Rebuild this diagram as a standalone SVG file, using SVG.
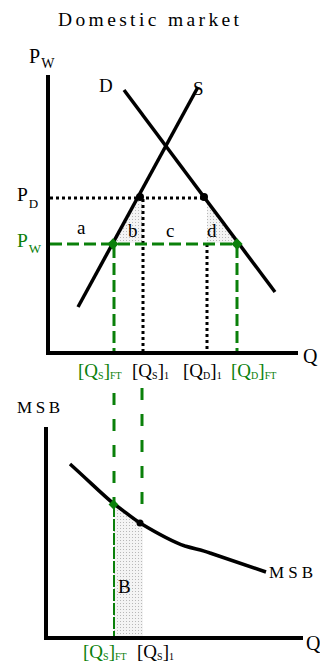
<svg xmlns="http://www.w3.org/2000/svg" width="320" height="663" viewBox="0 0 320 663">
<defs>
<pattern id="dots" width="3" height="3" patternUnits="userSpaceOnUse">
<rect width="3" height="3" fill="#f4f4f4"/>
<rect width="1" height="1" fill="#b8b8b8"/>
</pattern>
</defs>
<style>
.t{font-family:"Liberation Serif","Times New Roman",serif;fill:#000}
.g{fill:#0a800a}
.axis{stroke:#000;stroke-width:4;fill:none}
.curve{stroke:#000;stroke-width:3.5;fill:none;stroke-linecap:butt}
.dot{stroke:#000;stroke-width:3;stroke-dasharray:3 3;fill:none}
.gd{stroke:#0a800a;stroke-width:3;stroke-dasharray:12 5;fill:none}
.gv{stroke:#0a800a;stroke-width:3;stroke-dasharray:12 14;fill:none}
.shade{fill:url(#dots);stroke:none}
</style>
<rect width="320" height="663" fill="#fff"/>

<text class="t" x="58" y="26" font-size="19.5" textLength="181" lengthAdjust="spacing">Domestic market</text>

<g id="shading">
<polygon class="shade" points="140,198 143,198 143,243 114,243"/>
<polygon class="shade" points="204,198 207,198 207,243 236,243"/>
<path class="shade" d="M114,505 L140,523 L143,524 L143,637 L114,637 Z"/>
</g>

<g id="axes">
<polyline class="axis" points="48,75 48,353 298,353"/>
<polyline class="axis" points="46,427 46,638 303,638"/>
</g>

<g id="connectors">
<line class="dot" x1="50" y1="198" x2="204" y2="198"/>
<line class="dot" x1="143" y1="199" x2="143" y2="351"/>
<line class="dot" x1="207" y1="244" x2="207" y2="351"/>
<line class="gd" x1="50" y1="244" x2="237" y2="244"/>
<line class="gd" x1="114" y1="246" x2="114" y2="351" stroke-dasharray="10 4"/>
<line class="gd" x1="237" y1="246" x2="237" y2="351" stroke-dasharray="10 4"/>
<line class="gv" x1="114" y1="393" x2="114" y2="505"/>
<line class="gv" x1="142" y1="388" x2="142" y2="510"/>
<line stroke="#0a800a" stroke-width="2" stroke-dasharray="12 2" x1="114" y1="505" x2="114" y2="636"/>
</g>

<g id="curve-D">
<line class="curve" x1="124" y1="90" x2="275" y2="292"/>
<text class="t" x="99" y="92" font-size="19">D</text>
</g>
<g id="curve-S">
<line class="curve" x1="78" y1="307" x2="198" y2="87"/>
<text class="t" x="193" y="95" font-size="19">S</text>
</g>
<g id="curve-MSB">
<path class="curve" d="M70,464 C90,482 104,496 114,504 C124,511 132,518 140,523 C155,532 170,541 185,546 C195,549 202,550 210,553 L266,572"/>
<text class="t" x="269" y="578" font-size="17" textLength="44" lengthAdjust="spacing">MSB</text>
</g>

<g id="points">
<circle cx="140" cy="197" r="4"/>
<circle cx="204" cy="197" r="4"/>
<circle cx="140" cy="523" r="3.5"/>
<rect x="109" y="240" width="8" height="8" fill="#0a800a" transform="rotate(45 113 244)"/>
<rect x="233" y="240" width="8" height="8" fill="#0a800a" transform="rotate(45 237 244)"/>
<rect x="110" y="501" width="7" height="7" fill="#0a800a" transform="rotate(45 113.5 504.5)"/>
</g>

<g id="labels">
<text class="t" x="29" y="63" font-size="20">P<tspan font-size="14" dx="1" dy="5">W</tspan></text>
<text class="t" x="17" y="201" font-size="19.5">P<tspan font-size="13" dx="1" dy="7">D</tspan></text>
<text class="t g" x="17" y="247" font-size="19.5">P<tspan font-size="13" dx="1" dy="6">W</tspan></text>
<text class="t" x="77" y="234" font-size="19">a</text>
<text class="t" x="128" y="237" font-size="19">b</text>
<text class="t" x="166" y="237" font-size="19">c</text>
<text class="t" x="207" y="237" font-size="19">d</text>
<text class="t" x="303" y="363" font-size="20">Q</text>
<text class="t g" x="78" y="377" font-size="19">[Q<tspan font-size="10" dy="2">S</tspan><tspan dy="-2">]</tspan><tspan font-size="10" dy="2">FT</tspan></text>
<text class="t" x="132" y="377" font-size="19">[Q<tspan font-size="10" dy="2">S</tspan><tspan dy="-2">]</tspan><tspan font-size="10" dy="2">1</tspan></text>
<text class="t" x="183" y="377" font-size="19">[Q<tspan font-size="10" dy="2">D</tspan><tspan dy="-2">]</tspan><tspan font-size="10" dy="2">1</tspan></text>
<text class="t g" x="231" y="377" font-size="19">[Q<tspan font-size="10" dy="2">D</tspan><tspan dy="-2">]</tspan><tspan font-size="10" dy="2">FT</tspan></text>
<text class="t" x="17" y="413" font-size="17" textLength="43" lengthAdjust="spacing">MSB</text>
<text class="t" x="118" y="593" font-size="19">B</text>
<text class="t" x="306" y="650" font-size="20">Q</text>
<text class="t g" x="83" y="658" font-size="19">[Q<tspan font-size="10" dy="2">S</tspan><tspan dy="-2">]</tspan><tspan font-size="10" dy="2">FT</tspan></text>
<text class="t" x="137" y="658" font-size="19">[Q<tspan font-size="10" dy="2">S</tspan><tspan dy="-2">]</tspan><tspan font-size="10" dy="2">1</tspan></text>
</g>
</svg>
